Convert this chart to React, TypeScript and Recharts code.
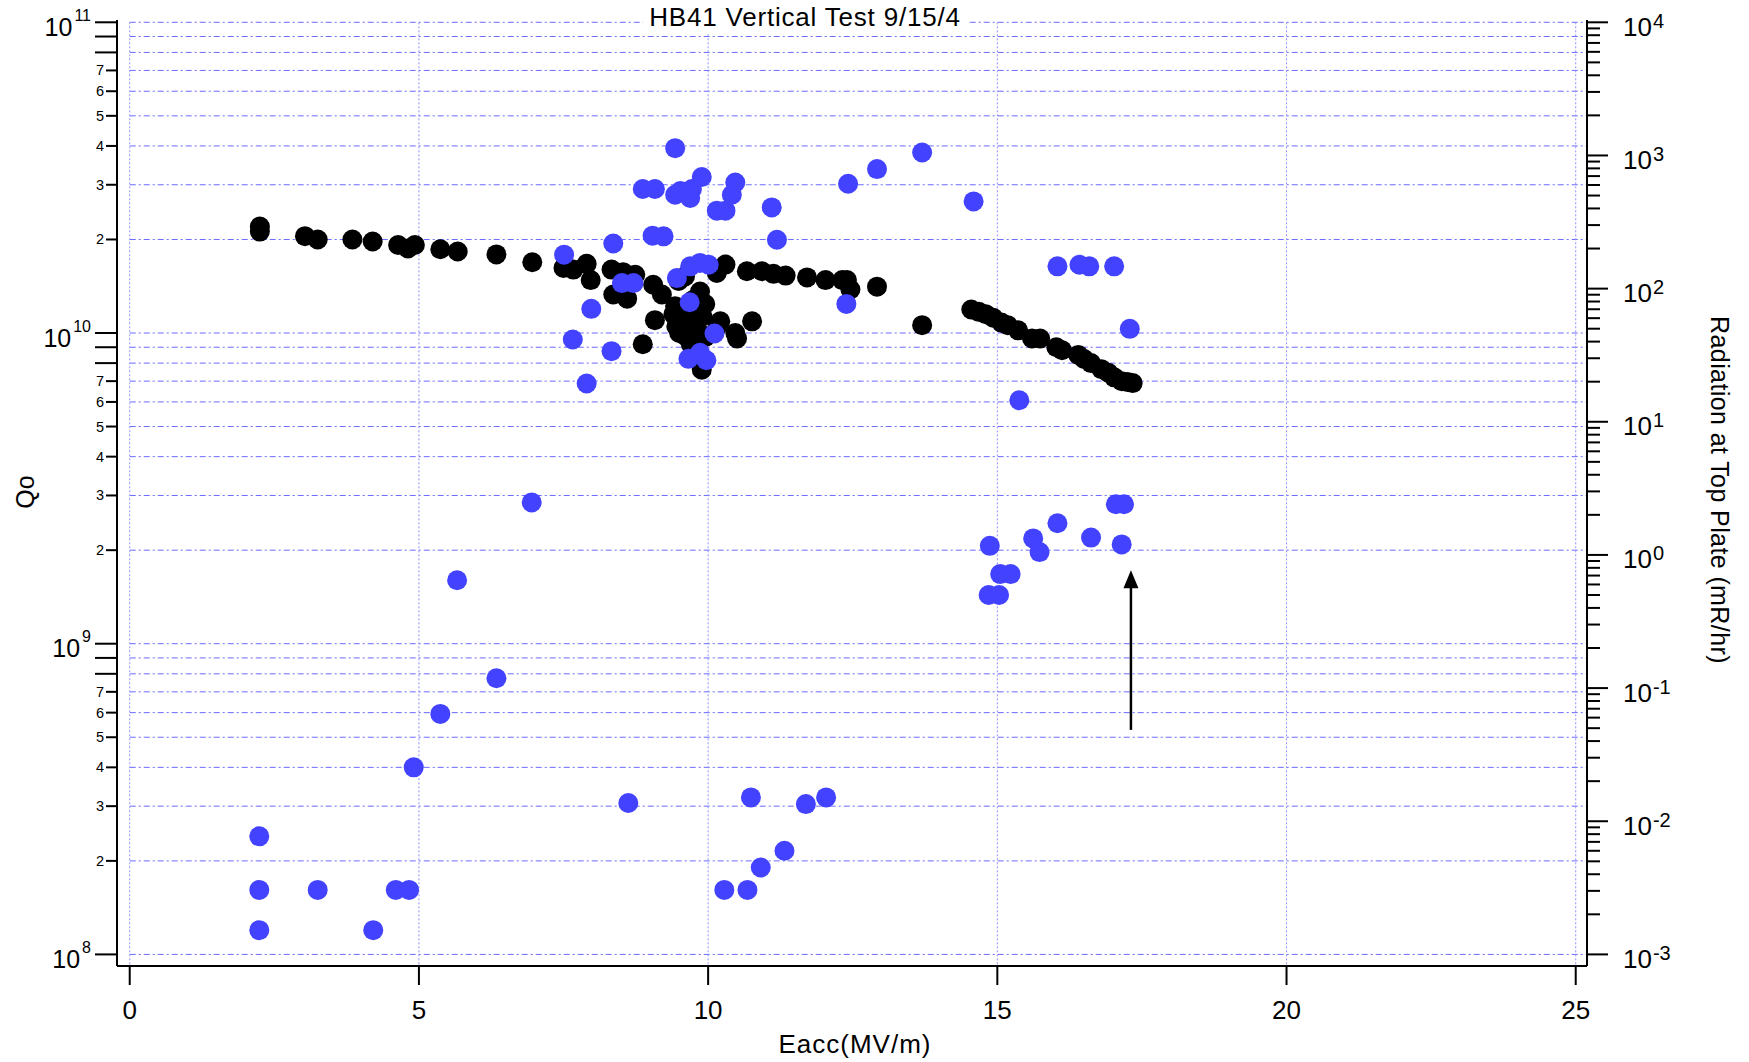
import React from 'react'
import { ReferenceLine, Scatter, ScatterChart, XAxis, YAxis } from 'recharts'

// Qo (left axis, black)
const qoEacc = [
  2.25, 2.25, 3.03, 3.25, 3.85, 4.2, 4.64, 4.81, 4.93, 5.37, 5.67, 6.34, 6.96,
  7.5, 7.67, 7.9, 7.97, 8.33, 8.53, 8.74, 8.36, 8.6, 9.05, 9.2, 9.08, 8.87,
  9.43, 9.49, 9.6, 9.86, 9.4, 9.45, 9.5, 9.55, 9.6, 9.65, 9.7, 9.75, 9.8, 9.85,
  9.9, 9.95, 9.7, 9.6, 9.69, 9.89, 9.95, 9.75,
  10.15, 10.3, 10.21, 10.16, 10.47, 10.5, 10.76, 10.67, 10.93, 11.13, 11.34,
  11.71, 12.03, 12.32, 12.4, 12.46, 12.92, 13.7,
  14.55, 14.68, 14.8, 14.93, 15.07, 15.18, 15.36, 15.6, 15.74, 16.02, 16.12,
  16.4, 16.5, 16.62, 16.8, 16.92, 17.02, 17.15, 17.25, 17.34,
]
const qoValues = [
  2.2e10, 2.12e10, 2.05e10, 2.0e10, 2.0e10, 1.97e10, 1.92e10, 1.87e10, 1.92e10,
  1.86e10, 1.83e10, 1.79e10, 1.69e10, 1.62e10, 1.6e10, 1.67e10, 1.48e10,
  1.6e10, 1.57e10, 1.54e10, 1.33e10, 1.29e10, 1.43e10, 1.33e10, 1.1e10, 9.2e9,
  1.22e10, 1.47e10, 1.52e10, 1.36e10, 1.15e10, 1.05e10, 1.0e10, 1.12e10, 9.8e9,
  1.08e10, 1.03e10, 9.6e9, 1.1e10, 1.0e10, 1.13e10, 9.7e9, 9.2e9, 1.18e10,
  9.5e9, 7.62e9, 1.24e10, 1.28e10,
  1.56e10, 1.66e10, 1.09e10, 1.05e10, 1.0e10, 9.6e9, 1.09e10, 1.58e10, 1.58e10,
  1.55e10, 1.53e10, 1.51e10, 1.48e10, 1.48e10, 1.48e10, 1.38e10, 1.41e10,
  1.06e10,
  1.19e10, 1.17e10, 1.15e10, 1.12e10, 1.08e10, 1.06e10, 1.02e10, 9.6e9, 9.6e9,
  9.0e9, 8.8e9, 8.5e9, 8.25e9, 8.0e9, 7.65e9, 7.45e9, 7.2e9, 7.0e9, 6.95e9,
  6.9e9,
]

// radiation at top plate (right axis, blue)
const radEacc = [
  2.24, 2.24, 2.24, 3.25, 4.21, 4.6, 4.83, 4.91, 5.37, 5.66, 6.34, 6.95, 8.62,
  10.28, 10.68, 10.91, 10.74, 11.32, 11.69, 12.04,
  7.51, 7.66, 7.9, 7.98, 8.33, 8.36, 8.51, 8.71, 8.87, 9.08, 9.04, 9.23, 9.43,
  9.43, 9.52, 9.69, 9.72, 9.89, 10.47, 10.41, 10.15, 10.3, 11.1, 11.19, 12.42,
  12.92, 13.7, 14.59, 12.39, 9.46, 9.69, 9.86, 10.01, 9.68, 10.11, 9.66, 9.86,
  9.97,
  16.04, 16.42, 16.59, 17.02, 17.29, 15.38,
  14.87, 15.05, 15.23, 14.85, 15.03, 15.62, 15.73, 16.04, 16.62, 17.05, 17.19,
  17.15,
]
const radValues = [
  0.0077, 0.00305, 0.00152, 0.00305, 0.00152, 0.00305, 0.00305, 0.0254, 0.064,
  0.645, 0.1186, 2.48, 0.0137, 0.00305, 0.00305, 0.00449, 0.0151, 0.006,
  0.01346, 0.0151,
  180, 41.5, 19.4, 70.5, 33.9, 218, 110, 110, 560, 560, 250, 247, 1135, 507,
  540, 479, 560, 689, 627, 507, 385, 385, 407, 233, 613, 790, 1052, 452, 76.8,
  120, 147, 156, 151, 79, 46, 29.7, 33, 29,
  147, 151, 147, 147, 49.9, 14.5,
  1.17, 0.718, 0.718, 0.5, 0.5, 1.33, 1.05, 1.73, 1.35, 2.4, 2.4, 1.2,
]

const xTicks = [0, 5, 10, 15, 20, 25]
const mantissas = [1, 2, 3, 4, 5, 6, 7, 8, 9]
const leftDecades = [8, 9, 10]
const rightDecades = [-3, -2, -1, 0, 1, 2, 3]
const leftLabelled = [2, 3, 4, 5, 6, 7]

const leftTicks = [
  ...leftDecades.flatMap((d) => mantissas.map((m) => m * Math.pow(10, d))),
  1e11,
]
const rightTicks = [
  ...rightDecades.flatMap((d) => mantissas.map((m) => m * Math.pow(10, d))),
  1e4,
]

const xDomain: [number, number] = [-0.22, 25.195]
const leftDomain: [number, number] = [Math.pow(10, 7.9627), Math.pow(10, 11.0074)]
const rightDomain: [number, number] = [Math.pow(10, -3.0871), Math.pow(10, 4.0173)]

const qoData = qoEacc.map((x, i) => ({ x, y: qoValues[i] }))
const radData = radEacc.map((x, i) => ({ x, y: radValues[i] }))

const FONT = '"Liberation Sans", Arial, sans-serif'
const BLUE = '#4242ff'

const splitLog = (v: number) => {
  const exp = Math.floor(Math.log10(v) + 1e-9)
  const m = Math.round(v / Math.pow(10, exp))
  return { exp, m }
}

const LeftTick = (props: any) => {
  const { x, y, payload } = props
  const { exp, m } = splitLog(payload.value)
  if (m === 1) {
    return (
      <g>
        <line x1={x - 22} y1={y} x2={x} y2={y} stroke="#000" strokeWidth={2} />
        <text x={x - 26} y={y + 13.7} textAnchor="end" fontSize={25} fontFamily={FONT} fill="#000">
          <tspan>10</tspan>
          <tspan fontSize={16} dx={2} dy={-15}>{exp}</tspan>
        </text>
      </g>
    )
  }
  if (leftLabelled.includes(m)) {
    return (
      <g>
        <line x1={x - 11} y1={y} x2={x} y2={y} stroke="#000" strokeWidth={2} />
        <text x={x - 13} y={y + 5} textAnchor="end" fontSize={14.5} fontFamily={FONT} fill="#000">
          {m}
        </text>
      </g>
    )
  }
  return <line x1={x - 22} y1={y} x2={x} y2={y} stroke="#000" strokeWidth={2} />
}

const RightTick = (props: any) => {
  const { x, y, payload } = props
  const { exp, m } = splitLog(payload.value)
  if (m === 1) {
    return (
      <g>
        <line x1={x} y1={y} x2={x + 21} y2={y} stroke="#000" strokeWidth={2} />
        <text x={x + 36} y={y + 13.5} fontSize={26} fontFamily={FONT} fill="#000">
          <tspan>10</tspan>
          <tspan fontSize={20} dx={1} dy={-8}>{exp}</tspan>
        </text>
      </g>
    )
  }
  return <line x1={x} y1={y} x2={x + 13} y2={y} stroke="#000" strokeWidth={2} />
}

const BottomTick = (props: any) => {
  const { x, y, payload } = props
  return (
    <g>
      <line x1={x} y1={y} x2={x} y2={y + 19} stroke="#000" strokeWidth={2} />
      <text x={x} y={y + 53} textAnchor="middle" fontSize={26} fontFamily={FONT} fill="#000">
        {payload.value}
      </text>
    </g>
  )
}

const Arrow = (p: any) => {
  const { x1, y1, x2, y2 } = p
  return (
    <g>
      <line x1={x1} y1={y1} x2={x2} y2={y2 + 16} stroke="#000" strokeWidth={2.5} />
      <polygon points={`${x2},${y2} ${x2 - 7.5},${y2 + 18} ${x2 + 7.5},${y2 + 18}`} fill="#000" />
    </g>
  )
}

const dot = (color: string) => (p: any) => (
  <circle cx={p.cx} cy={p.cy} r={10} fill={color} />
)

export default function App() {
  return (
    <div
      style={{
        position: 'absolute',
        left: 0,
        top: 0,
        width: 1749,
        height: 1062,
        background: '#fff',
        fontFamily: FONT,
        color: '#000',
      }}
    >
      <ScatterChart
        width={1749}
        height={1062}
        margin={{ top: 20, right: 0, bottom: 0, left: 0 }}
      >
        <XAxis
          type="number"
          dataKey="x"
          domain={xDomain}
          allowDataOverflow
          ticks={xTicks}
          interval={0}
          height={96}
          tickSize={0}
          tickMargin={0}
          tickLine={false}
          axisLine={{ stroke: '#000', strokeWidth: 2 }}
          tick={<BottomTick />}
        />
        <YAxis
          yAxisId="left"
          type="number"
          dataKey="y"
          scale="log"
          domain={leftDomain}
          allowDataOverflow
          ticks={leftTicks}
          interval={0}
          width={117}
          tickSize={0}
          tickMargin={0}
          tickLine={false}
          axisLine={{ stroke: '#000', strokeWidth: 2 }}
          tick={<LeftTick />}
        />
        <YAxis
          yAxisId="right"
          orientation="right"
          type="number"
          dataKey="y"
          scale="log"
          domain={rightDomain}
          allowDataOverflow
          ticks={rightTicks}
          interval={0}
          width={162}
          tickSize={0}
          tickMargin={0}
          tickLine={false}
          axisLine={{ stroke: '#000', strokeWidth: 2 }}
          tick={<RightTick />}
        />

        {leftTicks.map((v) => (
          <ReferenceLine
            key={`h${v}`}
            yAxisId="left"
            segment={[
              { x: 0, y: v },
              { x: xDomain[1], y: v },
            ]}
            stroke="#6a6aff"
            strokeWidth={1}
            strokeDasharray="6 3 2 3"
          />
        ))}
        {xTicks.map((t) => (
          <ReferenceLine
            key={`v${t}`}
            yAxisId="left"
            segment={[
              { x: t, y: 1e11 },
              { x: t, y: leftDomain[0] },
            ]}
            stroke="#9090ff"
            strokeWidth={1}
            strokeDasharray="2 2"
          />
        ))}

        <Scatter
          yAxisId="left"
          data={qoData}
          fill="#000"
          shape={dot('#000')}
          isAnimationActive={false}
        />
        <Scatter
          yAxisId="right"
          data={radData}
          fill={BLUE}
          shape={dot(BLUE)}
          isAnimationActive={false}
        />

        <ReferenceLine
          yAxisId="left"
          segment={[
            { x: 17.31, y: 5.28e8 },
            { x: 17.31, y: 1.725e9 },
          ]}
          shape={<Arrow />}
        />
      </ScatterChart>

      <div
        style={{
          position: 'absolute',
          left: 643,
          top: 0,
          width: 324,
          height: 33,
          background: '#fff',
          textAlign: 'center',
          fontSize: 26,
          letterSpacing: 0.8,
          lineHeight: '34px',
          whiteSpace: 'nowrap',
        }}
      >
        HB41 Vertical Test 9/15/4
      </div>
      <div
        style={{
          position: 'absolute',
          left: 25,
          top: 492,
          transform: 'translate(-50%, -50%) rotate(-90deg)',
          fontSize: 25,
          lineHeight: 1,
          whiteSpace: 'nowrap',
        }}
      >
        Qo
      </div>
      <div
        style={{
          position: 'absolute',
          left: 1719,
          top: 490,
          transform: 'translate(-50%, -50%) rotate(90deg)',
          fontSize: 25,
          letterSpacing: 0.4,
          lineHeight: 1,
          whiteSpace: 'nowrap',
        }}
      >
        Radiation at Top Plate (mR/hr)
      </div>
      <div
        style={{
          position: 'absolute',
          left: 855,
          top: 1044,
          transform: 'translate(-50%, -50%)',
          fontSize: 26,
          letterSpacing: 1,
          lineHeight: 1,
          whiteSpace: 'nowrap',
        }}
      >
        Eacc(MV/m)
      </div>
    </div>
  )
}
